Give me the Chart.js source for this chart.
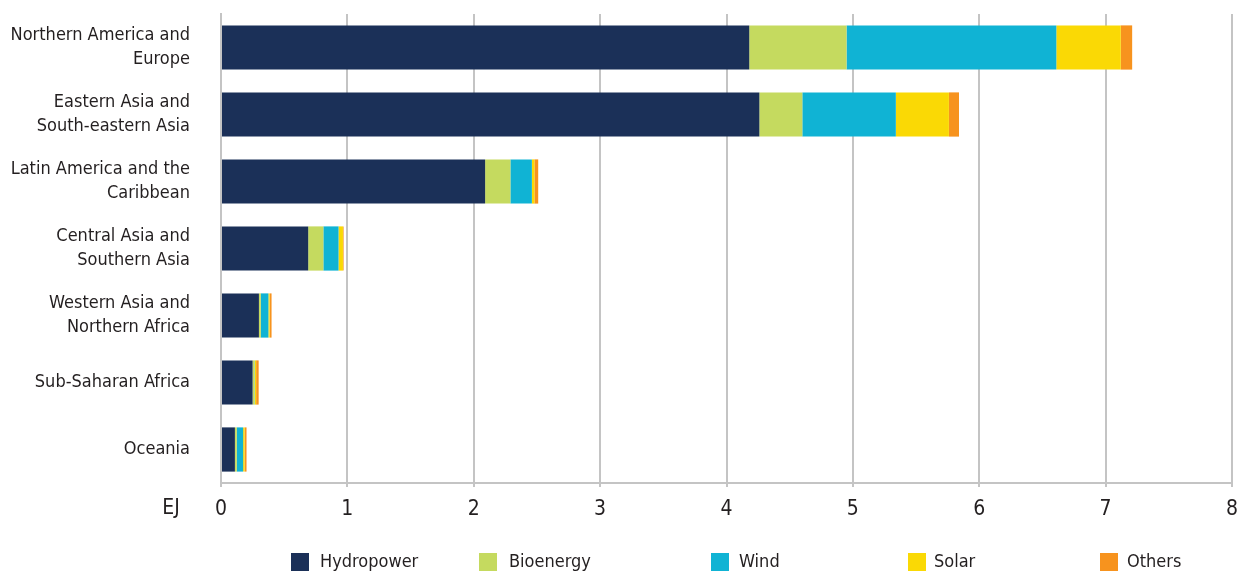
<!DOCTYPE html>
<html>
<head>
<meta charset="utf-8">
<script src="https://cdn.jsdelivr.net/npm/chart.js@4"></script>
<style>
    body { margin: 0; background: #fff; }
    #wrap { position: relative; width: 1238px; height: 573px; }
    #legend { position: absolute; left: 0; top: 553px; width: 1238px; height: 20px; }
    .item { position: absolute; top: 0; height: 18px; }
    .box { position: absolute; left: 0; top: 0; width: 18px; height: 18px; }
    .txt { position: absolute; top: -3px; white-space: nowrap; font-family: "DejaVu Sans Condensed", "DejaVu Sans", sans-serif; font-stretch: condensed; font-size: 18px; color: #231f20; }
</style>
</head>
<body>
<div id="wrap">
    <canvas id="energyChart" width="1238" height="573"></canvas>
    <div id="legend"></div>
</div>
<script>
// regions (y axis)
const regions = [
    ['Northern America and', 'Europe'],
    ['Eastern Asia and', 'South-eastern Asia'],
    ['Latin America and the', 'Caribbean'],
    ['Central Asia and', 'Southern Asia'],
    ['Western Asia and', 'Northern Africa'],
    ['Sub-Saharan Africa'],
    ['Oceania']
];

// EJ
const hydropower = [4.18, 4.26, 2.09, 0.69, 0.30, 0.25, 0.11];
const bioenergy  = [0.77, 0.34, 0.20, 0.12, 0.015, 0.015, 0.015];
const wind       = [1.66, 0.74, 0.17, 0.12, 0.06, 0.003, 0.05];
const solar      = [0.51, 0.42, 0.02, 0.035, 0.01, 0.01, 0.012];
const others     = [0.09, 0.08, 0.03, 0.005, 0.015, 0.02, 0.015];

const xTicks = [0, 1, 2, 3, 4, 5, 6, 7, 8];

const seriesNames = ['Hydropower', 'Bioenergy', 'Wind', 'Solar', 'Others'];
const seriesColors = ['#1b3058', '#c5da5f', '#10b3d4', '#fad905', '#f7931e'];
const legendLeft = [291, 479, 711, 908, 1100];
const legendGap = [29, 30, 28, 26, 27];

const FONT = '"DejaVu Sans Condensed", "DejaVu Sans", sans-serif';
const TEXT = '#231f20';
const GRID = '#c4c4c4';

// "EJ" unit label left of the tick row
const unitLabel = {
    id: 'unitLabel',
    afterDraw(chart) {
        const ctx = chart.ctx;
        const xs = chart.scales.x;
        ctx.save();
        ctx.font = 'normal condensed 21px ' + FONT;
        ctx.fillStyle = TEXT;
        ctx.textAlign = 'center';
        ctx.textBaseline = 'middle';
        ctx.fillText('EJ', chart.chartArea.left - 50, xs.top + 26);
        ctx.restore();
    }
};

const allSeries = [hydropower, bioenergy, wind, solar, others];

new Chart(document.getElementById('energyChart').getContext('2d'), {
    type: 'bar',
    data: {
        labels: regions,
        datasets: allSeries.map((d, i) => ({
            label: seriesNames[i],
            data: d,
            backgroundColor: seriesColors[i],
            borderWidth: 0,
            barPercentage: 0.66,
            categoryPercentage: 1
        }))
    },
    options: {
        indexAxis: 'y',
        responsive: false,
        animation: false,
        layout: { padding: { top: 14, right: 6, left: 0, bottom: 0 } },
        plugins: {
            legend: { display: false },
            tooltip: { enabled: false }
        },
        scales: {
            x: {
                stacked: true,
                min: 0,
                max: 8,
                afterBuildTicks(scale) { scale.ticks = xTicks.map(v => ({ value: v })); },
                afterFit(scale) {
                    scale.height = 90;
                    scale.paddingLeft = 0;
                    scale.paddingRight = 0;
                },
                ticks: {
                    font: { family: FONT, size: 21, weight: 'normal condensed' },
                    color: TEXT,
                    padding: 10,
                    maxRotation: 0
                },
                grid: { color: GRID, lineWidth: 2, tickLength: 4 },
                border: { color: GRID, width: 2 }
            },
            y: {
                stacked: true,
                afterFit(scale) {
                    scale.width = 221;
                    scale.paddingTop = 0;
                    scale.paddingBottom = 0;
                },
                ticks: {
                    font: { family: FONT, size: 18, weight: 'normal condensed', lineHeight: 1.3 },
                    color: TEXT,
                    padding: 23
                },
                grid: { display: false },
                border: { color: GRID, width: 2 }
            }
        }
    },
    plugins: [unitLabel]
});

// legend with the reference's uneven spacing
const legend = document.getElementById('legend');
seriesNames.forEach((name, i) => {
    const item = document.createElement('div');
    item.className = 'item';
    item.style.left = legendLeft[i] + 'px';
    item.innerHTML = '<div class="box" style="background:' + seriesColors[i] + '"></div>' +
        '<div class="txt" style="left:' + legendGap[i] + 'px">' + name + '</div>';
    legend.appendChild(item);
});
</script>
</body>
</html>
